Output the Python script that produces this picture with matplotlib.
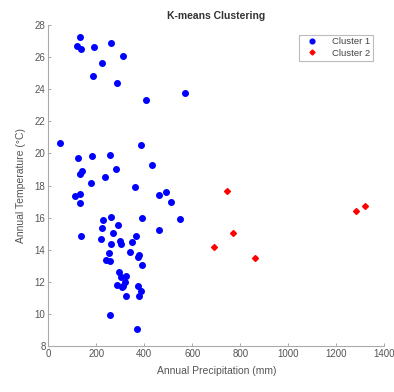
import matplotlib.pyplot as plt

# Cluster 1 (blue circles)
c1_precip = [132, 118, 135, 192, 260, 313, 224, 186, 285, 408, 570,
             50, 386, 122, 183, 256, 431, 283, 142, 131, 236, 177, 363,
             111, 132, 132, 461, 490, 510, 390, 549, 261, 227, 292, 222,
             461, 136, 271, 367, 220, 300, 302, 261, 350, 339, 252, 379,
             374, 242, 257, 392, 296, 303, 325, 321, 285, 307, 310, 374,
             377, 385, 323, 258, 371]
c1_temp = [27.23, 26.71, 26.50, 26.65, 26.88, 26.07, 25.63, 24.80, 24.37, 23.33, 23.78,
           20.67, 20.54, 19.69, 19.82, 19.88, 19.28, 19.03, 18.88, 18.70, 18.53, 18.16, 17.90,
           17.35, 17.47, 16.91, 17.43, 17.58, 16.95, 15.96, 15.91, 16.02, 15.85, 15.56, 15.37,
           15.25, 14.83, 15.02, 14.83, 14.65, 14.52, 14.33, 14.33, 14.48, 13.84, 13.78, 13.67,
           13.55, 13.36, 13.30, 13.05, 12.63, 12.30, 12.36, 11.97, 11.82, 11.66, 11.74, 11.74,
           11.13, 11.41, 11.12, 9.93, 9.06]

# Cluster 2 (red diamonds)
c2_precip = [746, 771, 689, 860, 1282, 1318]
c2_temp = [17.68, 15.04, 14.17, 13.48, 16.43, 16.72]

plt.rcParams['font.family'] = ['Liberation Sans', 'DejaVu Sans']

fig = plt.figure(figsize=(3.94, 3.92), dpi=100)
ax = fig.add_axes([0.1226, 0.1173, 0.8528, 0.8189])

ax.plot(c1_precip, c1_temp, 'o', color='#0000ff', markersize=4.0, label='Cluster 1')
ax.plot(c2_precip, c2_temp, 'D', color='#ff0000', markersize=3.0, label='Cluster 2')

ax.set_xlim(0, 1400)
ax.set_ylim(8, 28)
ax.set_xticks(range(0, 1401, 200))
ax.set_yticks(range(8, 29, 2))

grey = '#555555'
for s in ['top', 'right']:
    ax.spines[s].set_visible(False)
for s in ['left', 'bottom']:
    ax.spines[s].set_color('#aaaaaa')
    ax.spines[s].set_linewidth(0.8)
ax.tick_params(direction='in', length=2.5, width=0.6, color='#999999',
               labelcolor=grey, labelsize=7, pad=2)

ax.set_xlabel('Annual Precipitation (mm)', fontsize=7.5, color=grey, labelpad=5)
ax.set_ylabel('Annual Temperature (°C)', fontsize=7.5, color=grey, labelpad=6)
ax.set_title('K-means Clustering', fontsize=7.5, fontweight='bold', color='#333333', pad=4)

leg = ax.legend(loc='upper right', bbox_to_anchor=(0.98, 0.985), fontsize=6.8,
                frameon=True, fancybox=False, handletextpad=1.0, borderpad=0.3,
                labelspacing=0.25, handlelength=2.2, markerscale=0.85)
leg.get_frame().set_edgecolor('#aaaaaa')
leg.get_frame().set_linewidth(0.8)
for t in leg.get_texts():
    t.set_color('#444444')

fig.savefig('out.png', dpi=100)
